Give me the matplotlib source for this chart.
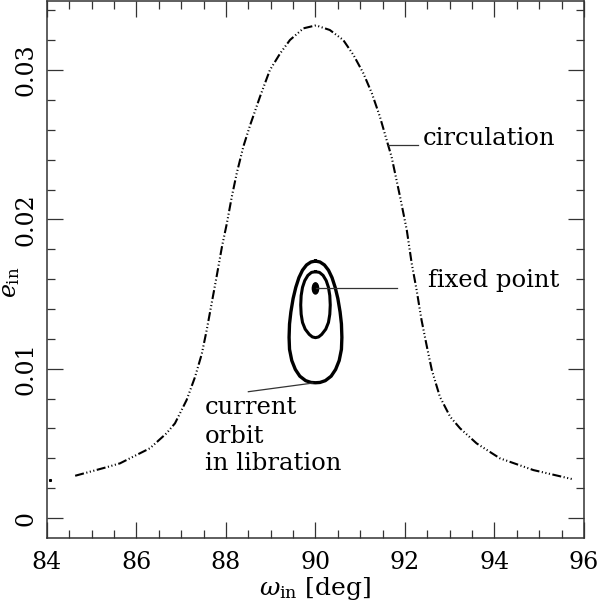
"""Circulation and libration of the inner orbit in the (omega_in, e_in) plane."""
import matplotlib
matplotlib.use("Agg")
import matplotlib.pyplot as plt
from matplotlib.patches import Ellipse
from matplotlib.ticker import MultipleLocator

# circulating trajectory
circ_w = [84.63, 85.33, 85.63, 86.00, 86.30, 86.67, 86.86, 87.12, 87.31, 87.46,
          87.57, 87.68, 87.79, 87.91, 88.02, 88.13, 88.24, 88.39, 88.54, 88.76,
          88.98, 89.21, 89.43, 89.73, 90.01, 90.32, 90.62, 90.85, 91.07, 91.26,
          91.44, 91.59, 91.70, 91.89, 92.04, 92.15, 92.26, 92.37, 92.49, 92.60,
          92.78, 93.01, 93.23, 93.60, 94.12, 94.87, 95.76]
circ_e = [0.00283, 0.00340, 0.00366, 0.00422, 0.00467, 0.00567, 0.00634, 0.00790,
          0.00946, 0.01100, 0.01260, 0.01438, 0.01616, 0.01817, 0.01974, 0.02152,
          0.02309, 0.02490, 0.02632, 0.02822, 0.03000, 0.03112, 0.03202, 0.03280,
          0.03300, 0.03269, 0.03202, 0.03101, 0.02979, 0.02845, 0.02688, 0.02532,
          0.02420, 0.02152, 0.01929, 0.01706, 0.01527, 0.01326, 0.01147, 0.00991,
          0.00812, 0.00678, 0.00601, 0.00500, 0.00400, 0.00321, 0.00259]
stray_w = [84.07]
stray_e = [0.00254]

# current orbit, librating
outer_w = [90.00, 90.10, 90.20, 90.29, 90.37, 90.44, 90.50, 90.55, 90.58, 90.59,
           90.58, 90.53, 90.45, 90.35, 90.22, 90.10, 90.00,
           89.90, 89.78, 89.65, 89.55, 89.47, 89.42, 89.41, 89.42, 89.45, 89.50,
           89.56, 89.63, 89.71, 89.80, 89.90, 90.00]
outer_e = [0.01721, 0.01715, 0.01695, 0.01660, 0.01610, 0.01545, 0.01470, 0.01380,
           0.01300, 0.01210, 0.01130, 0.01055, 0.00995, 0.00950, 0.00920, 0.00908,
           0.00906,
           0.00908, 0.00920, 0.00950, 0.00995, 0.01055, 0.01130, 0.01210, 0.01300,
           0.01380, 0.01470, 0.01545, 0.01610, 0.01660, 0.01695, 0.01715, 0.01721]

# smaller libration orbit
inner_w = [90.00, 90.09, 90.17, 90.24, 90.29, 90.32, 90.33, 90.32, 90.29, 90.23,
           90.14, 90.07, 90.00,
           89.93, 89.86, 89.77, 89.71, 89.68, 89.67, 89.68, 89.71, 89.76, 89.83,
           89.91, 90.00]
inner_e = [0.01650, 0.01645, 0.01625, 0.01590, 0.01545, 0.01490, 0.01427, 0.01365,
           0.01310, 0.01265, 0.01230, 0.01213, 0.01208,
           0.01213, 0.01230, 0.01265, 0.01310, 0.01365, 0.01427, 0.01490, 0.01545,
           0.01590, 0.01625, 0.01645, 0.01650]

fixed_w = 90.0
fixed_e = 0.01538

plt.rcParams["font.family"] = "DejaVu Serif"
plt.rcParams["mathtext.fontset"] = "dejavuserif"
plt.rcParams["lines.scale_dashes"] = False

fig = plt.figure(figsize=(6.0, 6.06), dpi=100)
ax = fig.add_axes([0.0783, 0.1122, 0.895, 0.8861])

ax.plot(circ_w, circ_e, color="black", lw=1.5,
        dashes=(6.5, 1.8, 0.8, 1.8, 0.8, 1.8, 0.8, 1.8))
ax.plot(stray_w, stray_e, "s", color="black", ms=1.2)
ax.plot(outer_w, outer_e, color="black", lw=2.4)
ax.plot(inner_w, inner_e, color="black", lw=2.2)
ax.add_patch(Ellipse((fixed_w, fixed_e), 0.14, 0.00075, color="black"))

# labels
ax.plot([91.62, 92.29], [0.02498, 0.02498], color="#333333", lw=0.9)
ax.text(92.40, 0.02498, "circulation", fontsize=17.5, va="baseline")
ax.plot([90.01, 91.82], [0.01540, 0.01540], color="#333333", lw=0.9)
ax.text(92.52, 0.01545, "fixed point", fontsize=17.5, va="baseline")
ax.plot([88.50, 89.94], [0.00846, 0.00904], color="#333333", lw=0.9)
ax.text(87.53, 0.00697, "current", fontsize=17.5, va="baseline")
ax.text(87.53, 0.00504, "orbit", fontsize=17.5, va="baseline")
ax.text(87.53, 0.00322, "in libration", fontsize=17.5, va="baseline")

ax.set_xlim(84, 96)
ax.set_ylim(-0.00134, 0.03463)
ax.xaxis.set_major_locator(MultipleLocator(2))
ax.xaxis.set_minor_locator(MultipleLocator(0.5))
ax.yaxis.set_minor_locator(MultipleLocator(0.002))
ax.set_yticks([0, 0.01, 0.02, 0.03])
ax.set_yticklabels(["0", "0.01", "0.02", "0.03"], rotation=90, va="center")

ax.tick_params(which="both", direction="in", top=True, right=True,
               width=0.9, color="#333333", labelsize=17)
ax.tick_params(which="major", length=11.5)
ax.tick_params(which="minor", length=5.8)
ax.tick_params(axis="x", pad=9)
ax.tick_params(axis="y", pad=7)
for sp in ax.spines.values():
    sp.set_linewidth(1.1)
    sp.set_color("#333333")

ax.set_xlabel(r"$\omega_{\rm in}$ [deg]", fontsize=18, labelpad=1)
ax.set_ylabel(r"$e_{\rm in}$", fontsize=17)
ax.yaxis.set_label_coords(-0.046, 0.477)

fig.savefig("out.png", dpi=100)
